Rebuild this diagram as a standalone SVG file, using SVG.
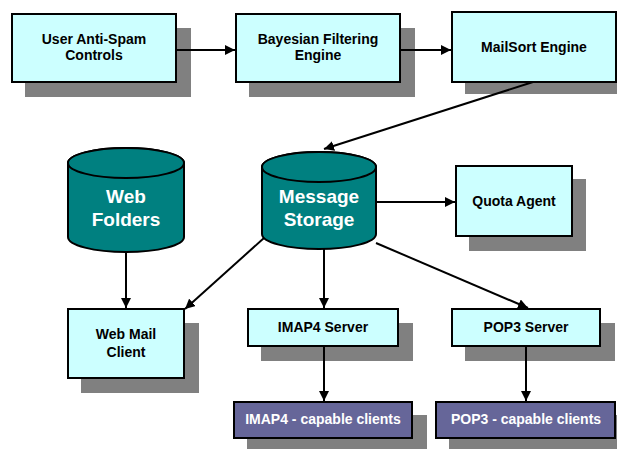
<svg xmlns="http://www.w3.org/2000/svg" width="617" height="449" viewBox="0 0 617 449">
<style>
.sh{fill:#808080}
.bx{fill:#ccffff;stroke:#000;stroke-width:2}
.cl{fill:#666699;stroke:#000;stroke-width:2}
.cy{fill:#008080;stroke:#000;stroke-width:2}
.t{font-family:"Liberation Sans",Arial,sans-serif;font-weight:bold;font-size:14px;fill:#000;text-anchor:middle}
.w{fill:#fff}
.big{font-size:19px}
.c line{stroke:#000;stroke-width:2;marker-end:url(#ah)}
</style>
<defs>
<marker id="ah" viewBox="0 0 10 10" refX="10" refY="5" markerWidth="5" markerHeight="5" markerUnits="strokeWidth" orient="auto">
<path d="M0,0 L10,5 L0,10 z" fill="#000"/>
</marker>
</defs>
<rect width="617" height="449" fill="#fff"/>
<g id="user-antispam">
<rect class="sh" x="25" y="28" width="166" height="69"/>
<rect class="bx" x="12" y="14" width="164" height="68"/>
<text class="t" x="94" y="44">User Anti-Spam</text>
<text class="t" x="94" y="60">Controls</text>
</g>
<g id="bayesian">
<rect class="sh" x="249" y="28" width="166" height="69"/>
<rect class="bx" x="236" y="14" width="164" height="68"/>
<text class="t" x="318" y="44">Bayesian Filtering</text>
<text class="t" x="318" y="60">Engine</text>
</g>
<g id="mailsort">
<rect class="sh" x="465" y="26" width="152" height="68"/>
<rect class="bx" x="452" y="12" width="164" height="70"/>
<text class="t" x="534" y="52">MailSort Engine</text>
</g>
<g id="web-folders">
<path class="cy" d="M68,163 L68,237 A58,15 0 0 0 184,237 L184,163 A58,15 0 0 0 68,163 Z"/>
<ellipse class="cy" cx="126" cy="163" rx="58" ry="15"/>
<text class="t w big" x="126" y="203">Web</text>
<text class="t w big" x="126" y="226">Folders</text>
</g>
<g id="message-storage">
<path class="cy" d="M262,167 L262,234 A57,15 0 0 0 376,234 L376,167 A57,15 0 0 0 262,167 Z"/>
<ellipse class="cy" cx="319" cy="167" rx="57" ry="15"/>
<text class="t w big" x="319" y="203">Message</text>
<text class="t w big" x="319" y="226">Storage</text>
</g>
<g id="quota-agent">
<rect class="sh" x="469" y="179" width="117" height="72"/>
<rect class="bx" x="456" y="166" width="116" height="70"/>
<text class="t" x="514" y="206">Quota Agent</text>
</g>
<g id="web-mail-client">
<rect class="sh" x="81" y="323" width="118" height="70"/>
<rect class="bx" x="68" y="309" width="116" height="69"/>
<text class="t" x="126" y="339">Web Mail</text>
<text class="t" x="126" y="357">Client</text>
</g>
<g id="imap4-server">
<rect class="sh" x="261" y="323" width="152" height="38"/>
<rect class="bx" x="248" y="309" width="150" height="37"/>
<text class="t" x="323" y="332">IMAP4 Server</text>
</g>
<g id="pop3-server">
<rect class="sh" x="465" y="323" width="150" height="38"/>
<rect class="bx" x="452" y="309" width="148" height="37"/>
<text class="t" x="526" y="332">POP3 Server</text>
</g>
<g id="imap4-clients">
<rect class="sh" x="247" y="415" width="180" height="34"/>
<rect class="cl" x="234" y="402" width="178" height="36"/>
<text class="t w" x="323" y="424">IMAP4 - capable clients</text>
</g>
<g id="pop3-clients">
<rect class="sh" x="449" y="415" width="168" height="34"/>
<rect class="cl" x="436" y="402" width="179" height="36"/>
<text class="t w" x="526" y="424">POP3 - capable clients</text>
</g>
<g id="connectors" class="c">
<line x1="176" y1="50" x2="235" y2="50"/>
<line x1="400" y1="50" x2="451" y2="50"/>
<line x1="533" y1="82" x2="324" y2="149"/>
<line x1="376" y1="202" x2="455" y2="202"/>
<line x1="126" y1="252" x2="126" y2="308"/>
<line x1="264" y1="238" x2="185" y2="309"/>
<line x1="324" y1="249" x2="324" y2="308"/>
<line x1="376" y1="243" x2="528" y2="308"/>
<line x1="324" y1="346" x2="324" y2="401"/>
<line x1="526" y1="346" x2="526" y2="401"/>
</g>
</svg>
